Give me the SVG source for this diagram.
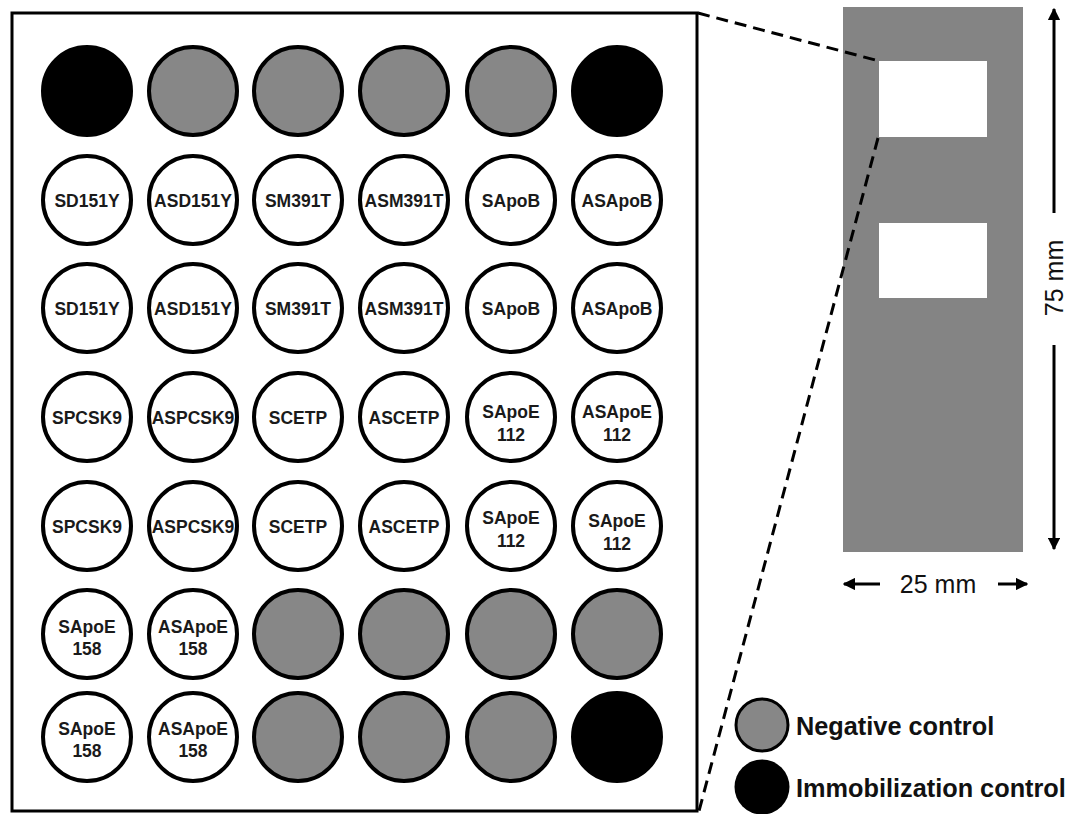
<svg xmlns="http://www.w3.org/2000/svg" width="1072" height="814" viewBox="0 0 1072 814">
<defs>
<style>
.spot{stroke:#000;stroke-width:4}
.neg{fill:#878787}
.imm{fill:#000}
.lab{fill:#fff}
.t{font-family:"Liberation Sans",Arial,sans-serif;font-weight:bold;font-size:17.5px;fill:#1a1a1a;text-anchor:middle}
.dash{fill:none;stroke:#000;stroke-width:3;stroke-dasharray:12 7}
.dim{stroke:#000;stroke-width:3;fill:none}
.mm{font-family:"Liberation Sans",Arial,sans-serif;font-size:25px;fill:#111;text-anchor:middle}
.leg{font-family:"Liberation Sans",Arial,sans-serif;font-weight:bold;font-size:25.3px;fill:#111}
</style>
<marker id="ah" viewBox="0 0 10 10" refX="9" refY="5" markerWidth="4.2" markerHeight="4.2" orient="auto-start-reverse" markerUnits="strokeWidth">
<path d="M0,0 L10,5 L0,10 Z" fill="#000"/>
</marker>
</defs>
<rect width="1072" height="814" fill="#fff"/>
<g id="frame"><rect x="12" y="13" width="685" height="798" fill="#fff" stroke="#000" stroke-width="3"/></g>
<g id="slide">
<rect x="843" y="7" width="180" height="545" fill="#848484"/>
<rect x="879" y="61" width="108" height="76" fill="#fff"/>
<rect x="879" y="223" width="108" height="75" fill="#fff"/>
</g>
<g id="connectors">
<line class="dash" x1="698" y1="13" x2="879" y2="61"/>
<line class="dash" x1="878" y1="138" x2="699" y2="811"/>
<line class="dim" x1="1054" y1="213" x2="1054" y2="9" marker-end="url(#ah)"/>
<line class="dim" x1="1054" y1="345" x2="1054" y2="549" marker-end="url(#ah)"/>
<line class="dim" x1="880" y1="584" x2="844" y2="584" marker-end="url(#ah)"/>
<line class="dim" x1="998" y1="584" x2="1027" y2="584" marker-end="url(#ah)"/>
</g>
<g id="dim-labels">
<text class="mm" transform="translate(1063,278) rotate(-90)">75 mm</text>
<text class="mm" x="938" y="593">25 mm</text>
</g>
<g id="spots">
<g id="r1c1"><circle class="spot imm" cx="87" cy="91" r="44"/></g>
<g id="r1c2"><circle class="spot neg" cx="193" cy="91" r="44"/></g>
<g id="r1c3"><circle class="spot neg" cx="298" cy="91" r="44"/></g>
<g id="r1c4"><circle class="spot neg" cx="404" cy="91" r="44"/></g>
<g id="r1c5"><circle class="spot neg" cx="511" cy="91" r="44"/></g>
<g id="r1c6"><circle class="spot imm" cx="617" cy="91" r="44"/></g>

<g id="r2c1"><circle class="spot lab" cx="87" cy="200" r="44"/><text class="t" x="87" y="207">SD151Y</text></g>
<g id="r2c2"><circle class="spot lab" cx="193" cy="200" r="44"/><text class="t" x="193" y="207">ASD151Y</text></g>
<g id="r2c3"><circle class="spot lab" cx="298" cy="200" r="44"/><text class="t" x="298" y="207">SM391T</text></g>
<g id="r2c4"><circle class="spot lab" cx="404" cy="200" r="44"/><text class="t" x="404" y="207">ASM391T</text></g>
<g id="r2c5"><circle class="spot lab" cx="511" cy="200" r="44"/><text class="t" x="511" y="207">SApoB</text></g>
<g id="r2c6"><circle class="spot lab" cx="617" cy="200" r="44"/><text class="t" x="617" y="207">ASApoB</text></g>

<g id="r3c1"><circle class="spot lab" cx="87" cy="308" r="44"/><text class="t" x="87" y="315">SD151Y</text></g>
<g id="r3c2"><circle class="spot lab" cx="193" cy="308" r="44"/><text class="t" x="193" y="315">ASD151Y</text></g>
<g id="r3c3"><circle class="spot lab" cx="298" cy="308" r="44"/><text class="t" x="298" y="315">SM391T</text></g>
<g id="r3c4"><circle class="spot lab" cx="404" cy="308" r="44"/><text class="t" x="404" y="315">ASM391T</text></g>
<g id="r3c5"><circle class="spot lab" cx="511" cy="308" r="44"/><text class="t" x="511" y="315">SApoB</text></g>
<g id="r3c6"><circle class="spot lab" cx="617" cy="308" r="44"/><text class="t" x="617" y="315">ASApoB</text></g>

<g id="r4c1"><circle class="spot lab" cx="87" cy="417" r="44"/><text class="t" x="87" y="424">SPCSK9</text></g>
<g id="r4c2"><circle class="spot lab" cx="193" cy="417" r="44"/><text class="t" x="193" y="424">ASPCSK9</text></g>
<g id="r4c3"><circle class="spot lab" cx="298" cy="417" r="44"/><text class="t" x="298" y="424">SCETP</text></g>
<g id="r4c4"><circle class="spot lab" cx="404" cy="417" r="44"/><text class="t" x="404" y="424">ASCETP</text></g>
<g id="r4c5"><circle class="spot lab" cx="511" cy="417" r="44"/><text class="t" x="511" y="418">SApoE</text><text class="t" x="511" y="441">112</text></g>
<g id="r4c6"><circle class="spot lab" cx="617" cy="417" r="44"/><text class="t" x="617" y="418">ASApoE</text><text class="t" x="617" y="441">112</text></g>

<g id="r5c1"><circle class="spot lab" cx="87" cy="526" r="44"/><text class="t" x="87" y="533">SPCSK9</text></g>
<g id="r5c2"><circle class="spot lab" cx="193" cy="526" r="44"/><text class="t" x="193" y="533">ASPCSK9</text></g>
<g id="r5c3"><circle class="spot lab" cx="298" cy="526" r="44"/><text class="t" x="298" y="533">SCETP</text></g>
<g id="r5c4"><circle class="spot lab" cx="404" cy="526" r="44"/><text class="t" x="404" y="533">ASCETP</text></g>
<g id="r5c5"><circle class="spot lab" cx="511" cy="526" r="44"/><text class="t" x="511" y="524">SApoE</text><text class="t" x="511" y="547">112</text></g>
<g id="r5c6"><circle class="spot lab" cx="617" cy="526" r="44"/><text class="t" x="617" y="527">SApoE</text><text class="t" x="617" y="550">112</text></g>

<g id="r6c1"><circle class="spot lab" cx="87" cy="634" r="44"/><text class="t" x="87" y="633">SApoE</text><text class="t" x="87" y="655">158</text></g>
<g id="r6c2"><circle class="spot lab" cx="193" cy="634" r="44"/><text class="t" x="193" y="633">ASApoE</text><text class="t" x="193" y="655">158</text></g>
<g id="r6c3"><circle class="spot neg" cx="298" cy="634" r="44"/></g>
<g id="r6c4"><circle class="spot neg" cx="404" cy="634" r="44"/></g>
<g id="r6c5"><circle class="spot neg" cx="511" cy="634" r="44"/></g>
<g id="r6c6"><circle class="spot neg" cx="617" cy="634" r="44"/></g>

<g id="r7c1"><circle class="spot lab" cx="87" cy="737" r="44"/><text class="t" x="87" y="735">SApoE</text><text class="t" x="87" y="757">158</text></g>
<g id="r7c2"><circle class="spot lab" cx="193" cy="737" r="44"/><text class="t" x="193" y="735">ASApoE</text><text class="t" x="193" y="757">158</text></g>
<g id="r7c3"><circle class="spot neg" cx="298" cy="737" r="44"/></g>
<g id="r7c4"><circle class="spot neg" cx="404" cy="737" r="44"/></g>
<g id="r7c5"><circle class="spot neg" cx="511" cy="737" r="44"/></g>
<g id="r7c6"><circle class="spot imm" cx="617" cy="737" r="44"/></g>
</g>
<g id="legend">
<g id="leg-neg"><circle cx="762" cy="725" r="26" fill="#878787" stroke="#000" stroke-width="3"/><text class="leg" x="796" y="735">Negative control</text></g>
<g id="leg-imm"><circle cx="762" cy="787" r="27.5" fill="#000"/><text class="leg" x="796" y="797">Immobilization control</text></g>
</g>
</svg>
